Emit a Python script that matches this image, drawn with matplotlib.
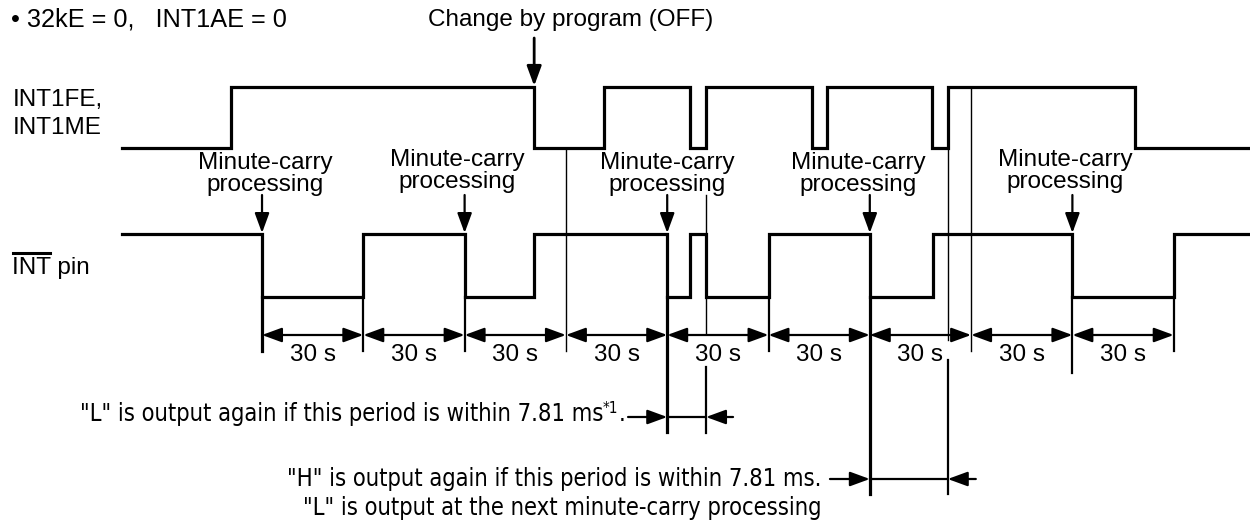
import numpy as np
import matplotlib
matplotlib.use("Agg")
import matplotlib.pyplot as plt
from matplotlib import font_manager

# --- Timing data (seconds, 0 = first minute-carry processing) ---
t_start, t_end = -41.5, 292.6
fe_edges = [-9.2, 80.6, 101.3, 126.8, 131.5, 162.9, 167.3, 198.4, 203.1, 258.5]  # INT1FE/INT1ME, starts low
int_edges = [0, 30, 60, 80.6, 120, 126.8, 131.5, 150, 180, 198.7, 240, 270]      # INT pin, starts high
carry_times = [0, 60, 120, 180, 240]
carry_label_x = [0.9, 57.8, 120, 176.5, 237.8]
dim_ticks = [0, 30, 60, 90, 120, 150, 180, 210, 240, 270]
dim_labels = ["30 s"] * 9
change_time = 80.6
l_period = (120, 131.5)
h_period = (180, 203.1)

# --- Layout (vertical positions, pixel-like units) ---
FE_HI, FE_LO = 87, 148
INT_HI, INT_LO = 234, 297
DIM_Y = 335
SIG_LW = 2.3
TICK_LW = 1.6
THIN_LW = 1.0

plt.rcParams['font.family'] = ['Liberation Sans', 'DejaVu Sans']
names = {f.name for f in font_manager.fontManager.ttflist}
if 'Liberation Sans Narrow' in names:
    narrow = dict(family='Liberation Sans Narrow')
else:
    narrow = dict(family='DejaVu Sans', stretch='condensed')

fig = plt.figure(figsize=(12.5, 5.24), dpi=100)
ax = fig.add_axes([0, 0, 1, 1])
ax.set_xlim(-77.6, 292.6)
ax.set_ylim(524, 0)
ax.axis('off')


def wave(edges, start_high, hi, lo):
    level = start_high
    xs, ys = [t_start], [hi if level else lo]
    for e in edges:
        xs += [e, e]
        ys += [hi if level else lo, lo if level else hi]
        level = not level
    xs.append(t_end)
    ys.append(hi if level else lo)
    return xs, ys


def arrow(x0, y0, x1, y1, lw=TICK_LW, style='-|>'):
    ax.annotate('', xy=(x1, y1), xytext=(x0, y0),
                arrowprops=dict(arrowstyle=f'{style},head_length=0.6,head_width=0.22',
                                mutation_scale=20, lw=lw, color='black',
                                shrinkA=0, shrinkB=0))


# signals
ax.plot(*wave(fe_edges, False, FE_HI, FE_LO), color='black', lw=SIG_LW, solid_joinstyle='miter')
ax.plot(*wave(int_edges, True, INT_HI, INT_LO), color='black', lw=SIG_LW, solid_joinstyle='miter')

# dimension tick lines
bottoms = {120: 432, 180: 494, 240: 373}
for t in dim_ticks:
    if t == 90:
        ax.plot([t, t], [FE_LO, 351], color='black', lw=THIN_LW)
    elif t == 210:
        ax.plot([t, t], [FE_HI, 351], color='black', lw=THIN_LW)
    else:
        lw = SIG_LW if t in (0, 120, 180) else TICK_LW
        ax.plot([t, t], [INT_LO, bottoms.get(t, 351)], color='black', lw=lw)

# extra thin reference lines for the short periods
ax.plot([l_period[1]] * 2, [195, 333], color='black', lw=THIN_LW)
ax.plot([l_period[1]] * 2, [367, 433], color='black', lw=TICK_LW)
ax.plot([h_period[1]] * 2, [FE_LO, 340], color='black', lw=THIN_LW)
ax.plot([h_period[1]] * 2, [360, 494], color='black', lw=TICK_LW)

# 30 s dimension arrows
for a, b, lab in zip(dim_ticks[:-1], dim_ticks[1:], dim_labels):
    arrow(a, DIM_Y, b, DIM_Y, style='<|-|>')
    ax.text((a + b) / 2, 355, lab, ha='center', va='center', fontsize=17.5)

# minute-carry processing arrows and labels
for t, lx in zip(carry_times, carry_label_x):
    arrow(t, 195, t, INT_HI - 1)
    ly = 160 if t in (60, 240) else 163
    ax.text(lx, ly, 'Minute-carry', ha='center', va='center', fontsize=17.5)
    ax.text(lx, ly + 22, 'processing', ha='center', va='center', fontsize=17.5)

# change by program
ax.text(91.5, 20, 'Change by program (OFF)', ha='center', va='center', fontsize=17.5)
arrow(change_time, 38, change_time, FE_HI - 1, lw=2)

# left labels
ax.text(-74.2, 20, '\u2022 32kE = 0,   INT1AE = 0', ha='left', va='center', fontsize=18.2)
ax.text(-73.9, 100, 'INT1FE,', ha='left', va='center', fontsize=17.5)
ax.text(-73.9, 128, 'INT1ME', ha='left', va='center', fontsize=17.5)
pin = ax.text(-73.9, 268, 'INT pin', ha='left', va='center', fontsize=17.5)
pin_int = ax.text(-73.9, 268, 'INT', ha='left', va='center', fontsize=17.5, alpha=0)

# bottom notes
l_txt = ax.text(101.0, 414, '"L" is output again if this period is within 7.81 ms',
                ha='right', va='center', fontsize=17, **narrow)
sup = ax.annotate('*1', xy=(1, 1.05), xycoords=l_txt, ha='left', va='top', fontsize=11, **narrow)
ax.annotate('.', xy=(1, 0), xycoords=(sup, l_txt), ha='left', va='bottom', fontsize=17, **narrow)
ax.plot(l_period, [417, 417], color='black', lw=TICK_LW)
arrow(108.4, 417, l_period[0], 417)
arrow(139.5, 417, l_period[1], 417)

ax.text(165.8, 479, '"H" is output again if this period is within 7.81 ms.',
        ha='right', va='center', fontsize=17, **narrow)
ax.text(165.8, 508, '"L" is output at the next minute-carry processing',
        ha='right', va='center', fontsize=17, **narrow)
ax.plot(h_period, [479, 479], color='black', lw=TICK_LW)
arrow(168.2, 479, h_period[0], 479)
arrow(211.4, 479, h_period[1], 479)

# overline on INT
fig.canvas.draw()
bb = pin_int.get_window_extent().transformed(ax.transData.inverted())
ax.plot([bb.x0 + 0.2, bb.x1 - 0.3], [253, 253], color='black', lw=2.2)

fig.savefig('out.png', dpi=100)
